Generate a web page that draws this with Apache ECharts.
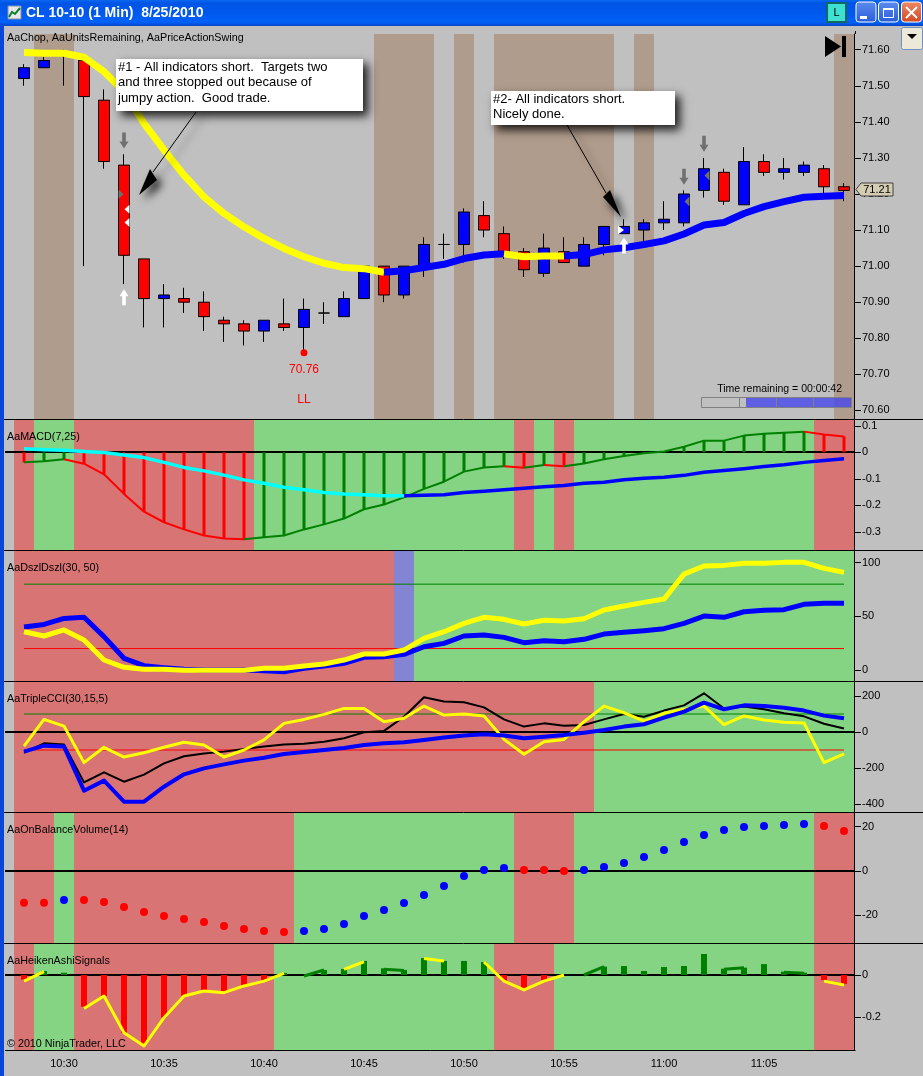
<!DOCTYPE html>
<html><head><meta charset="utf-8">
<style>html,body{margin:0;padding:0;background:#C0C0C0;overflow:hidden}#c{width:923px;height:1076px}</style>
<script src="https://cdn.jsdelivr.net/npm/echarts@6/dist/echarts.min.js"></script>
</head><body><div id="c"></div>
<script>
const categories=['10:28','10:29','10:30','10:31','10:32','10:33','10:34','10:35','10:36','10:37','10:38','10:39','10:40','10:41','10:42','10:43','10:44','10:45','10:46','10:47','10:48','10:49','10:50','10:51','10:52','10:53','10:54','10:55','10:56','10:57','10:58','10:59','11:00','11:01','11:02','11:03','11:04','11:05','11:06','11:07','11:08','11:09'];
const opens =[71.52,71.55,71.59,71.57,71.46,71.28,71.02,70.91,70.91,70.90,70.85,70.84,70.82,70.84,70.83,70.87,70.86,70.91,71.00,70.92,71.00,71.06,71.06,71.14,71.09,71.04,70.98,71.04,71.00,71.06,71.09,71.10,71.12,71.12,71.21,71.26,71.17,71.29,71.26,71.26,71.27,71.22];
const closes=[71.55,71.57,71.585,71.47,71.29,71.03,70.91,70.92,70.90,70.86,70.84,70.82,70.85,70.83,70.88,70.87,70.91,71.00,70.92,71.00,71.06,71.06,71.15,71.10,71.03,70.99,71.05,71.01,71.06,71.11,71.11,71.12,71.13,71.20,71.27,71.18,71.29,71.26,71.27,71.28,71.22,71.21];
const lows  =[71.50,71.55,71.50,71.00,71.27,70.95,70.83,70.83,70.87,70.82,70.79,70.78,70.79,70.82,70.76,70.84,70.86,70.91,70.90,70.91,70.97,71.02,71.01,71.08,71.02,70.97,70.97,71.01,71.00,71.03,71.09,71.07,71.10,71.11,71.19,71.17,71.17,71.25,71.24,71.25,71.20,71.18];
const highs =[71.56,71.58,71.60,71.58,71.49,71.31,71.02,70.95,70.94,70.93,70.86,70.85,70.85,70.91,70.91,70.90,70.93,71.00,71.00,71.00,71.08,71.09,71.16,71.18,71.11,71.05,71.09,71.08,71.08,71.11,71.13,71.13,71.18,71.21,71.30,71.27,71.33,71.31,71.30,71.29,71.28,71.23];
const chopLine=[71.592,71.590,71.590,71.579,71.539,71.484,71.396,71.322,71.252,71.192,71.146,71.109,71.077,71.049,71.026,71.008,70.996,70.993,70.983,70.987,70.996,71.005,71.021,71.031,71.034,71.026,71.028,71.028,71.032,71.045,71.051,71.060,71.070,71.089,71.114,71.121,71.146,71.165,71.179,71.191,71.194,71.196];
const chopLineRuns=[['y',19],['b',6],['y',3],['b',14]];
const chopBandRuns=[['',1],['c',2],['',15],['c',3],['',1],['c',1],['',1],['c',6],['',1],['c',1],['',9],['c',1]];
const priceTicks=[71.6,71.5,71.4,71.3,71.2,71.1,71.0,70.9,70.8,70.7,70.6];
const greyDownArrows=[[5,71.348],[33,71.248],[34,71.339]];
const whiteUpArrows=[[5,70.914],[30,71.057]];
const greyRightMarks=[[5,71.199]];
const greyLeftMarks=[[33,71.179],[34,71.251]];
const whiteLeftMarks=[[5,71.158],[5,71.121]];
const whiteRightMarks=[[30,71.10]];
const swingLow=[[14,70.76]];

const macdHist=[-0.038,-0.034,-0.026,-0.043,-0.083,-0.157,-0.224,-0.264,-0.291,-0.314,-0.325,-0.328,-0.321,-0.314,-0.291,-0.272,-0.250,-0.215,-0.197,-0.170,-0.138,-0.111,-0.073,-0.057,-0.053,-0.058,-0.048,-0.053,-0.042,-0.026,-0.014,-0.004,0.003,0.021,0.044,0.044,0.063,0.070,0.074,0.078,0.067,0.060];
const macdSignal=[0.013,0.010,0.008,0.003,-0.001,-0.010,-0.020,-0.038,-0.057,-0.070,-0.086,-0.104,-0.117,-0.132,-0.141,-0.152,-0.157,-0.160,-0.164,-0.164,-0.162,-0.160,-0.152,-0.147,-0.141,-0.136,-0.130,-0.125,-0.117,-0.113,-0.104,-0.098,-0.094,-0.087,-0.075,-0.069,-0.062,-0.054,-0.047,-0.038,-0.031,-0.024];
const macdSignalRuns=[['c',20],['b',22]];
const macdBandRuns=[['r',1],['g',2],['r',9],['g',13],['r',1],['g',1],['r',1],['g',12],['r',2]];
const macdTicks=[0.1,0,-0.1,-0.2,-0.3];

const dszlBlue=[40.1,42.5,48.1,49.1,31.1,10.9,4.0,2.2,0.6,0,0,0,-0.6,-1.6,1.6,3.7,6.2,11.8,12.4,14.6,21.7,24.8,31.7,32.6,30.4,25.5,27.3,26.4,28.6,33.5,35.1,36.6,38.5,43.5,50.3,49.1,54.3,55.6,56.2,61.2,62.1,62.1];
const dszlYellow=[35.7,31.7,37.3,28.0,9.3,2.5,0.6,0.6,-0.3,-0.3,-0.3,-0.3,1.6,1.6,3.7,5.6,9.3,14.9,14.9,18.6,29.5,35.7,43.5,49.1,47.2,42.9,46.3,45.7,47.8,55.9,59.6,63.0,66.1,89.4,96.9,97.5,99.4,99.4,100.3,100.3,94.7,91.0];
const dszlBandRuns=[['r',19],['p',1],['g',22]];
const dszlLevels=[80,20];
const dszlTicks=[100,50,0];

const cciBlue=[-109,-76,-81,-326,-270,-387,-387,-304,-235,-202,-180,-159,-143,-122,-111,-100,-89,-72,-63,-57,-44,-31,-20,-13,-20,-35,-26,-17,-4,11,30,43,80,113,163,126,148,144,135,119,91,76];
const cciBlack=[-115,-63,-69,-280,-224,-276,-237,-174,-135,-120,-109,-94,-80,-70,-65,-54,-35,-2,6,85,193,170,165,137,70,30,48,35,39,70,100,85,119,148,215,131,141,126,104,87,46,19];
const cciYellow=[-78,70,33,-170,-85,-139,-115,-85,-57,-72,-139,-100,-44,48,70,98,131,131,57,76,144,94,100,89,-41,-124,-54,-41,57,144,107,61,104,126,144,41,89,67,54,50,-170,-122];
const cciBandRuns=[['r',29],['g',13]];
const cciLevels=[100,-100];
const cciTicks=[200,0,-200,-400];

const obvValues=[-14.3,-14.3,-13.1,-13.1,-14.0,-16.2,-18.5,-20.3,-21.7,-23.0,-24.8,-26.2,-27.1,-27.5,-27.1,-26.2,-23.9,-20.3,-17.6,-14.4,-10.8,-6.8,-2.3,0.5,1.4,0.5,0.5,0,0.5,1.8,3.6,6.3,9.5,13.1,16.2,18.5,19.8,20.3,20.8,21.2,20.3,18.0];
const obvBandRuns=[['r',2],['g',1],['r',11],['g',11],['r',3],['g',12],['r',2]];
const obvTicks=[20,0,-20];

const haBars=[-0.022,0.019,0.011,-0.151,-0.100,-0.275,-0.325,-0.203,-0.098,-0.076,-0.081,-0.052,-0.024,0.010,0,0.024,0.029,0.067,0.032,0.024,0.081,0.067,0.067,0.062,-0.029,-0.065,-0.024,0,0,0.040,0.043,0.019,0.038,0.043,0.100,0.030,0.035,0.052,0.016,0.011,-0.024,-0.043];
const haLine=[-0.029,0.016,null,-0.159,-0.100,-0.275,-0.338,-0.203,-0.100,-0.076,-0.084,-0.052,-0.029,0.008,-0.005,0.024,0.027,0.063,0.027,0.022,0.079,0.067,null,0.062,-0.029,-0.071,-0.029,0,0,0.040,null,null,null,null,null,0.027,0.035,null,0.013,0.008,-0.029,-0.048];
const haLineRuns=[['y',2],['',2],['y',10],['',1],['g',1],['',1],['y',1],['',1],['g',1],['',1],['y',1],['',2],['y',4],['',1],['g',1],['',6],['g',1],['',2],['g',1],['',1],['y',1]];
const haBandRuns=[['r',1],['g',2],['r',10],['g',11],['r',3],['g',13],['r',2]];
const haTicks=[0,-0.2];

const FONT='"Liberation Sans",Arial,sans-serif';
const BAND={r:'#D87474',g:'#84D484',p:'#8484D4',c:'#B09C8C'};
const LINE={y:'#FFFF00',b:'#0000FF',c:'#00FFFF',g:'#008000',r:'#FF0000'};
const expand=runs=>runs.flatMap(([k,n])=>Array(n).fill(k));

const panels=[
 {top:34,bottom:419,min:70.5762,max:71.6435,ticks:priceTicks,fmt:v=>v.toFixed(2)},
 {top:420,bottom:550,min:-0.3687,max:0.1219,ticks:macdTicks,fmt:v=>v===0?'0':v.toFixed(1)},
 {top:551,bottom:681,min:-10.25,max:110.9,ticks:dszlTicks,fmt:v=>String(v)},
 {top:682,bottom:812,min:-444.4,max:277.8,ticks:cciTicks,fmt:v=>String(v)},
 {top:813,bottom:943,min:-32.48,max:26.17,ticks:obvTicks,fmt:v=>String(v)},
 {top:944,bottom:1050,min:-0.357,max:0.1476,ticks:haTicks,fmt:v=>v===0?'0':v.toFixed(1)}
];
const grid=panels.map(p=>({left:14,width:840,top:p.top,height:p.bottom-p.top,containLabel:false}));
const xAxis=panels.map((p,k)=>{
 const last=k===panels.length-1;
 return {type:'category',gridIndex:k,data:categories,boundaryGap:true,axisLine:{show:false},
  axisTick:{show:last,alignWithLabel:true,length:5,interval:(i)=>i%5===2,lineStyle:{color:'#000'}},
  axisLabel:{show:last,interval:(i)=>i%5===2,margin:8,color:'#000',fontFamily:FONT,fontSize:11},splitLine:{show:false}};
});
const yAxis=panels.map((p,k)=>({type:'value',gridIndex:k,position:'right',min:p.min,max:p.max,scale:true,
  axisLine:{show:true,onZero:false,lineStyle:{color:'#000',width:1}},
  axisTick:{show:true,length:7,customValues:p.ticks,lineStyle:{color:'#000'}},
  axisLabel:{show:true,margin:8,padding:[3,0,0,0],customValues:p.ticks,formatter:p.fmt,color:'#000',fontFamily:FONT,fontSize:11},
  splitLine:{show:false}}));

function bandSeries(k,runs){
 const arr=expand(runs);
 return {type:'custom',xAxisIndex:k,yAxisIndex:k,z:1,silent:true,clip:false,
  data:arr.map((_,i)=>[i,panels[k].min]),encode:{x:0,y:1},
  renderItem:(params,api)=>{
   const code=arr[api.value(0)];
   if(!code)return null;
   const cs=params.coordSys,w=api.size([1,0])[0],cx=api.coord([api.value(0),panels[k].min])[0];
   return {type:'rect',shape:{x:cx-w/2,y:cs.y,width:w,height:cs.height},style:{fill:BAND[code]}};
  }};
}
function runLines(k,vals,runs,width,z){
 const out=[];let end=0;
 runs.forEach(([key,n],ri)=>{
  const start=end;end+=n;
  if(!key)return;
  const from=Math.max(0,start-1+(ri===0?1:0));
  out.push({type:'line',xAxisIndex:k,yAxisIndex:k,z,silent:true,showSymbol:false,animation:false,
   data:vals.map((v,i)=>(i>=from&&i<end)?v:null),connectNulls:false,
   lineStyle:{color:LINE[key],width,cap:'butt',join:'round'}});
 });
 return out;
}
function plainLine(k,vals,color,width,z){
 return {type:'line',xAxisIndex:k,yAxisIndex:k,z,silent:true,showSymbol:false,data:vals,lineStyle:{color,width,cap:'butt',join:'round'}};
}
function marks(points,symbol,size,rot,offset,color,z){
 return {type:'scatter',xAxisIndex:0,yAxisIndex:0,z,silent:true,data:points,symbol,symbolSize:size,symbolRotate:rot,symbolOffset:offset,itemStyle:{color,opacity:1}};
}
const ARROW='path://M3,0 L7,0 L7,9 L10,9 L5,16 L0,9 L3,9 Z';
const macdStates=expand(macdBandRuns);
const obvStates=expand(obvBandRuns);

const series=[
 bandSeries(0,chopBandRuns),bandSeries(1,macdBandRuns),bandSeries(2,dszlBandRuns),bandSeries(3,cciBandRuns),bandSeries(4,obvBandRuns),bandSeries(5,haBandRuns),
 {type:'candlestick',xAxisIndex:0,yAxisIndex:0,z:3,silent:true,barWidth:12,
  data:categories.map((_,i)=>[opens[i],closes[i],lows[i],highs[i]]),
  itemStyle:{color:'#0000FF',color0:'#FF0000',borderColor:'#000',borderColor0:'#000',borderColorDoji:'#000',borderWidth:1}},
 ...runLines(0,chopLine,chopLineRuns,7,5),
 marks(greyDownArrows,ARROW,[9,16],0,[0,0],'#707070',6),
 marks(whiteUpArrows,ARROW,[9,16],180,[0,0],'#FFFFFF',6),
 marks(greyRightMarks,'triangle',[9,5],-90,[-3,0],'#707070',6),
 marks(greyLeftMarks,'triangle',[10,5],90,[3,0],'#707070',6),
 marks(whiteLeftMarks,'triangle',[9,5],90,[3,0],'#FFFFFF',6),
 marks(whiteRightMarks,'triangle',[9,6],-90,[-3,0],'#FFFFFF',6),
 {type:'scatter',xAxisIndex:0,yAxisIndex:0,z:6,silent:true,data:swingLow,symbol:'circle',symbolSize:7,itemStyle:{color:'#FF0000',opacity:1},
  label:{show:true,position:'bottom',distance:-2,formatter:p=>p.value[1].toFixed(2)+'\nLL',color:'#FF0000',fontFamily:FONT,fontSize:12,lineHeight:30,align:'center'}},

 {type:'bar',xAxisIndex:1,yAxisIndex:1,z:3,silent:true,barWidth:3,data:macdHist.map((v,i)=>({value:v,itemStyle:{color:LINE[macdStates[i]]}}))},
 ...runLines(1,macdHist,macdBandRuns,2,4),
 ...runLines(1,macdSignal,macdSignalRuns,3.5,5),

 plainLine(2,categories.map(()=>dszlLevels[0]),'#008000',1,3),
 plainLine(2,categories.map(()=>dszlLevels[1]),'#FF0000',1,3),
 plainLine(2,dszlBlue,'#0000FF',5,4),
 plainLine(2,dszlYellow,'#FFFF00',5,5),

 plainLine(3,categories.map(()=>cciLevels[0]),'#008000',1,3),
 plainLine(3,categories.map(()=>cciLevels[1]),'#FF0000',1,3),
 plainLine(3,cciBlack,'#000000',2,4),
 plainLine(3,cciYellow,'#FFFF00',3,5),
 plainLine(3,cciBlue,'#0000FF',4,6),

 {type:'scatter',xAxisIndex:4,yAxisIndex:4,z:4,silent:true,symbol:'circle',symbolSize:8,
  data:obvValues.map((v,i)=>({value:[i,v],itemStyle:{color:obvStates[i]==='r'?'#FF0000':'#0000FF',opacity:1}}))},

 {type:'bar',xAxisIndex:5,yAxisIndex:5,z:3,silent:true,barWidth:6,data:haBars.map(v=>({value:v,itemStyle:{color:v<0?'#FF0000':'#008000'}}))},
 ...runLines(5,haLine,haLineRuns,3,4)
];

const chart=echarts.init(document.getElementById('c'),null,{renderer:'canvas'});
chart.setOption({animation:false,backgroundColor:'#C0C0C0',tooltip:{show:false},grid,xAxis,yAxis,series});

const hl=(x1,y,x2,c,w,z)=>({type:'line',shape:{x1,y1:y,x2,y2:y},style:{stroke:c,lineWidth:w},z,silent:true});
const vl=(x,y1,y2,c,w,z)=>({type:'line',shape:{x1:x,y1,x2:x,y2},style:{stroke:c,lineWidth:w},z,silent:true});
const txt=(x,y,text,o)=>({type:'text',x,y,z:(o&&o.z)||30,silent:true,style:Object.assign({text,fill:'#000',font:'10.75px '+FONT,align:'left',verticalAlign:'middle'},o||{})});
const rect=(x,y,w,h,style,z,r)=>({type:'rect',shape:{x,y,width:w,height:h,r:r||0},style,z,silent:true});
const poly=(points,style,z)=>({type:'polygon',shape:{points},style,z,silent:true});
const grad=(stops)=>({type:'linear',x:0,y:0,x2:0,y2:1,colorStops:stops});
const els=[];
[1,3,4,5].forEach(k=>{const y=Math.round(chart.convertToPixel({yAxisIndex:k},0));els.push(hl(5,y,855,'#000',2,1.5));});
[419.5,550.5,681.5,812.5,943.5].forEach(y=>els.push(hl(4,y,923,'#000',1,10)));
els.push(hl(5,1050.5,855.5,'#000',1,10));
els.push(vl(855.5,31,34,'#000',1,10));
els.push(txt(7,38.5,'AaChop, AaUnitsRemaining, AaPriceActionSwing'));
els.push(txt(7,437.5,'AaMACD(7,25)'));
els.push(txt(7,568.5,'AaDszlDszl(30, 50)'));
els.push(txt(7,699.5,'AaTripleCCI(30,15,5)'));
els.push(txt(7,830.5,'AaOnBalanceVolume(14)'));
els.push(txt(7,961.5,'AaHeikenAshiSignals'));
els.push(txt(7,1044.5,'\u00A9 2010 NinjaTrader, LLC'));
els.push(poly([[825,36],[825,57],[841,46.5]],{fill:'#000'},20));
els.push(rect(842,36,4,21,{fill:'#000'},20));
els.push(txt(842,389,'Time remaining = 00:00:42',{align:'right',font:'10.5px '+FONT}));
els.push(rect(701.5,397.5,150,10,{fill:'none',stroke:'#808080',lineWidth:1},20));
els.push(rect(746,398,106,9,{fill:'rgba(70,70,235,0.8)'},19));
els.push(vl(739.5,397,408,'#808080',1,20));
els.push(vl(776.5,397,408,'#808080',1,20));
els.push(vl(813.5,397,408,'#808080',1,20));
els.push(poly([[856,189.5],[861,183],[893,183],[893,196],[861,196]],{fill:'#D4CDB4',stroke:'#404040',lineWidth:1},25));
els.push(txt(877,190,'71.21',{align:'center',z:26,font:'11px '+FONT}));
const shadow={shadowBlur:9,shadowColor:'rgba(0,0,0,0.85)',shadowOffsetX:5,shadowOffsetY:5};
els.push({type:'polyline',shape:{points:[[196,112],[153,172]]},style:Object.assign({stroke:'#000',lineWidth:1,fill:'none'},{shadowBlur:7,shadowColor:'rgba(0,0,0,.55)',shadowOffsetX:8,shadowOffsetY:5}),z:21,silent:true});
els.push(poly([[139,195],[150,169],[157,180]],Object.assign({fill:'#000'},shadow),21));
els.push(rect(116,59,247,52,Object.assign({fill:'#FFF'},shadow),22));
[['#1 - All indicators short.  Targets two',67.5],['and three stopped out because of',82.5],['jumpy action.  Good trade.',98.5]].forEach(([t,y])=>els.push(txt(118,y,t,{font:'13px '+FONT,z:23})));
els.push({type:'polyline',shape:{points:[[567,125],[606,193]]},style:Object.assign({stroke:'#000',lineWidth:1,fill:'none'},{shadowBlur:7,shadowColor:'rgba(0,0,0,.55)',shadowOffsetX:6,shadowOffsetY:4}),z:21,silent:true});
els.push(poly([[621,217],[603,197],[610,190]],Object.assign({fill:'#000'},shadow),21));
els.push(rect(491,91,184,34,Object.assign({fill:'#FFF'},shadow),22));
[['#2- All indicators short.',99.5],['Nicely done.',114.5]].forEach(([t,y])=>els.push(txt(493,y,t,{font:'13px '+FONT,z:23})));
els.push(rect(0,0,923,26,{fill:grad([{offset:0,color:'#0A68F0'},{offset:0.12,color:'#0055E5'},{offset:0.5,color:'#0058EE'},{offset:0.85,color:'#0062F8'},{offset:1,color:'#0044CC'}])},40));
els.push(rect(0,26,4,1050,{fill:'#0A46D8'},40));
els.push(rect(8,6,13,13,{fill:'#E8E8E8',stroke:'#8090B0',lineWidth:1},41));
els.push({type:'polyline',shape:{points:[[9,17],[12,12],[15,14],[20,8]]},style:{stroke:'#108030',lineWidth:2,fill:'none'},z:42,silent:true});
els.push(txt(26,13.5,'CL 10-10 (1 Min)  8/25/2010',{fill:'#FFF',font:'bold 14px '+FONT,z:43}));
els.push(rect(827,3,19,19,{fill:'#40E0D0',stroke:'#106860',lineWidth:2},41));
els.push(txt(836.5,13,'L',{align:'center',z:42,font:'11px '+FONT}));
const btn=(x,c1,c2)=>rect(x,2,20,20,{fill:grad([{offset:0,color:c1},{offset:1,color:c2}]),stroke:'#FFF',lineWidth:1},41,3);
els.push(btn(856,'#5C8CF0','#2A5CD8'));
els.push(rect(860,16,7,3,{fill:'#FFF'},42));
els.push(btn(878.5,'#5C8CF0','#2A5CD8'));
els.push(rect(883.5,8.5,10,9,{fill:'none',stroke:'#FFF',lineWidth:1},42));
els.push(rect(883,8,11,2,{fill:'#FFF'},42));
els.push(btn(901.5,'#EC8A68','#D04820'));
els.push({type:'line',shape:{x1:906,y1:7,x2:917,y2:18},style:{stroke:'#FFF',lineWidth:2},z:42,silent:true});
els.push({type:'line',shape:{x1:917,y1:7,x2:906,y2:18},style:{stroke:'#FFF',lineWidth:2},z:42,silent:true});
els.push(rect(901.5,27.5,21,22,{fill:'#ECE9D8',stroke:'#7090C0',lineWidth:1},41,2));
els.push(poly([[907,34],[917,34],[912,39]],{fill:'#000'},42));
chart.setOption({graphic:{elements:els}});
</script></body></html>
